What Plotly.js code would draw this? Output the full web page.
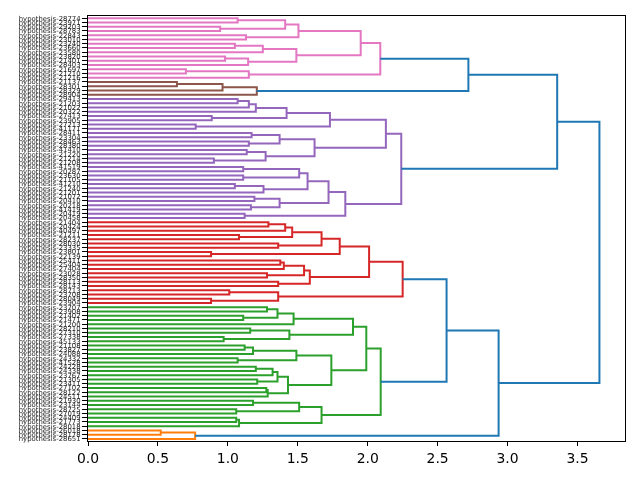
<!DOCTYPE html>
<html><head><meta charset="utf-8">
<script src="https://cdn.plot.ly/plotly-3.0.1.min.js"></script>
<style>html,body{margin:0;padding:0;background:#fff}#chart svg{will-change:transform}</style>
</head><body><div id="chart" style="width:640px;height:480px"></div>
<script>
// Leaf labels, listed from the top of the chart to the bottom
const leafLabels = [
 "hypothesis-28774","hypothesis-23971","hypothesis-29203","hypothesis-28783","hypothesis-22843",
 "hypothesis-23010","hypothesis-23240","hypothesis-23660","hypothesis-23580","hypothesis-23820",
 "hypothesis-21401","hypothesis-28403","hypothesis-21697","hypothesis-21210","hypothesis-21216",
 "hypothesis-21137","hypothesis-28301","hypothesis-28329","hypothesis-28904","hypothesis-29413",
 "hypothesis-21203","hypothesis-21022","hypothesis-20322","hypothesis-27413","hypothesis-23905",
 "hypothesis-27213","hypothesis-41171","hypothesis-28411","hypothesis-23304","hypothesis-28463",
 "hypothesis-28380","hypothesis-41410","hypothesis-21220","hypothesis-21214","hypothesis-21208",
 "hypothesis-41519","hypothesis-20287","hypothesis-23630","hypothesis-21105","hypothesis-41210",
 "hypothesis-21240","hypothesis-21201","hypothesis-21072","hypothesis-20410","hypothesis-20218",
 "hypothesis-41419","hypothesis-20419","hypothesis-20458",
 "hypothesis-21404","hypothesis-20424","hypothesis-40497","hypothesis-21211","hypothesis-28237",
 "hypothesis-28030","hypothesis-23335","hypothesis-23801","hypothesis-22139","hypothesis-25411",
 "hypothesis-25404","hypothesis-27404","hypothesis-23028","hypothesis-28350","hypothesis-28113",
 "hypothesis-28143","hypothesis-28713","hypothesis-23708","hypothesis-28049","hypothesis-23904",
 "hypothesis-23707","hypothesis-23908","hypothesis-21402","hypothesis-21471","hypothesis-21200",
 "hypothesis-28210","hypothesis-27310","hypothesis-27338","hypothesis-45133","hypothesis-21108",
 "hypothesis-23827","hypothesis-24088","hypothesis-24332","hypothesis-41528","hypothesis-24228",
 "hypothesis-24338","hypothesis-23767","hypothesis-21305","hypothesis-23411","hypothesis-27102",
 "hypothesis-28122","hypothesis-24511","hypothesis-21930","hypothesis-23144","hypothesis-28725",
 "hypothesis-27019","hypothesis-24409","hypothesis-21773","hypothesis-28018",
 "hypothesis-26018","hypothesis-28178","hypothesis-28651"
];

// Linkage: ids < 100 are leaves (index in leafLabels), id 100+j is merge j
const mergeLeft = [
 0,2,100,4,102,6,105,9,107,106,104,12,111,110,
 15,114,115,113,
 19,118,119,23,120,25,122,27,29,125,31,33,128,127,124,35,37,133,39,136,135,42,44,139,138,46,142,132,117,
 48,147,51,148,53,150,55,152,57,155,60,156,62,158,154,64,66,162,161,
 68,70,166,168,73,75,170,169,77,174,80,175,82,178,85,179,87,182,181,177,173,90,92,187,94,190,189,186,165,
 97,195,194,146
];
const mergeRight = [
 1,3,101,5,103,7,8,10,11,108,109,13,14,112,
 16,17,18,116,
 20,21,22,24,121,26,123,28,30,126,32,34,129,130,131,36,38,134,40,41,137,43,45,140,141,47,143,144,145,
 49,50,52,149,54,151,56,153,58,59,61,157,63,159,160,65,67,163,164,
 69,71,167,72,74,76,171,172,78,79,81,176,83,84,86,180,88,89,183,184,185,91,93,188,95,96,191,192,193,
 98,99,196,197
];
const mergeHeight = [
 1.07,0.945,1.41,1.13,1.505,1.05,1.25,0.98,1.145,1.49,1.95,0.70,1.15,2.09,
 0.636,0.962,1.207,2.72,
 1.07,1.15,1.20,0.885,1.42,0.77,1.73,1.17,1.15,1.37,1.135,0.90,1.27,1.62,2.13,1.11,1.11,1.51,1.05,1.255,1.57,1.19,1.165,1.37,1.72,1.12,1.84,2.24,3.355,
 1.29,1.41,1.08,1.46,1.36,1.67,0.88,1.80,1.375,1.40,1.28,1.545,1.36,1.586,2.01,1.01,0.88,1.36,2.25,
 1.28,1.11,1.355,1.47,1.16,0.97,1.44,1.895,1.12,1.18,1.07,1.49,1.20,1.32,1.21,1.355,1.275,1.285,1.43,1.74,1.99,1.18,1.06,1.51,1.06,1.08,1.67,2.093,2.564,
 0.52,0.766,2.936,3.657
];

const aboveColor = '#1f77b4';
const clusterPalette = ['#ff7f0e','#2ca02c','#d62728','#9467bd','#8c564b','#e377c2','#7f7f7f','#bcbd22','#17becf'];

const n = leafLabels.length;
const m = mergeHeight.length;
const nodeY = new Array(n + m), nodeH = new Array(n + m);
for (let k = 0; k < n; k++) { nodeY[k] = 10 * (n - 1 - k) + 5; nodeH[k] = 0; }
for (let j = 0; j < m; j++) {
  nodeY[n + j] = (nodeY[mergeLeft[j]] + nodeY[mergeRight[j]]) / 2;
  nodeH[n + j] = mergeHeight[j];
}
const maxH = Math.max(...mergeHeight);
const thr = 0.7 * maxH;

// find clusters (highest merges below threshold)
const clusterRoots = [];
function findRoots(id) {
  if (id < n) return;
  const j = id - n;
  if (mergeHeight[j] < thr) { clusterRoots.push(id); return; }
  findRoots(mergeLeft[j]); findRoots(mergeRight[j]);
}
findRoots(n + m - 1);
function minY(id) { return id < n ? nodeY[id] : Math.min(minY(mergeLeft[id - n]), minY(mergeRight[id - n])); }
clusterRoots.sort((a, b) => minY(a) - minY(b));
const linkColor = new Array(m).fill(aboveColor);
function paint(id, c) {
  if (id < n) return;
  linkColor[id - n] = c;
  paint(mergeLeft[id - n], c); paint(mergeRight[id - n], c);
}
clusterRoots.forEach((r, i) => paint(r, clusterPalette[i % clusterPalette.length]));

// build one trace per colour
const groups = {};
for (let j = 0; j < m; j++) {
  const a = mergeLeft[j], b = mergeRight[j], h = mergeHeight[j];
  const c = linkColor[j];
  if (!groups[c]) groups[c] = {x: [], y: []};
  groups[c].x.push(nodeH[a], h, h, nodeH[b], null);
  groups[c].y.push(nodeY[a], nodeY[a], nodeY[b], nodeY[b], null);
}
const order = clusterPalette.concat([aboveColor]);
const traces = order.filter(c => groups[c]).map(c => ({
  type: 'scatter', mode: 'lines', x: groups[c].x, y: groups[c].y,
  line: {color: c, width: 2}, hoverinfo: 'skip', showlegend: false
}));

const xTicks = [0, 0.5, 1, 1.5, 2, 2.5, 3, 3.5];
const layout = {
  width: 640, height: 480,
  margin: {l: 88, r: 15, t: 16, b: 39},
  paper_bgcolor: '#fff', plot_bgcolor: '#fff',
  showlegend: false,
  xaxis: {
    range: [0, 1.05 * maxH], tickvals: xTicks, ticktext: xTicks.map(v => v.toFixed(1)),
    ticks: 'outside', ticklen: 4, tickwidth: 1, tickcolor: '#000',
    showline: true, mirror: true, linecolor: '#000', linewidth: 1,
    showgrid: false, zeroline: false,
    tickfont: {family: 'DejaVu Sans', size: 13.9, color: '#000'}
  },
  yaxis: {
    range: [0, 10 * n], tickvals: leafLabels.map((_, k) => 10 * (n - 1 - k) + 5), ticktext: leafLabels,
    ticks: 'outside', ticklen: 5, tickwidth: 1, tickcolor: '#000',
    showline: true, mirror: true, linecolor: '#000', linewidth: 1,
    showgrid: false, zeroline: false,
    tickfont: {family: 'DejaVu Sans', size: 6.9, color: '#222'}
  }
};
Plotly.newPlot('chart', traces, layout, {staticPlot: true, displayModeBar: false});
</script></body></html>
